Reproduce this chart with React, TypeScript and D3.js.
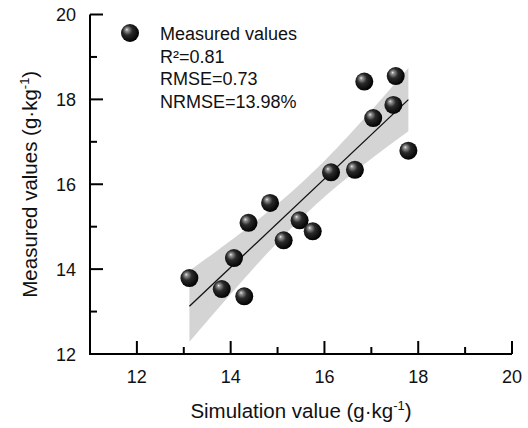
import { useEffect, useRef } from "react";
import * as d3 from "d3";

const simulated = [13.12, 13.81, 14.29, 14.07, 14.38, 14.84, 15.13, 15.47, 15.75, 16.14, 16.65, 16.85, 17.04, 17.52, 17.47, 17.79];
const measured = [13.79, 13.53, 13.36, 14.26, 15.09, 15.56, 14.68, 15.15, 14.89, 16.28, 16.34, 18.42, 17.56, 18.55, 17.87, 16.79];
const xTicks = [12, 14, 16, 18, 20];
const yTicks = [12, 14, 16, 18, 20];
const stats = ["R²=0.81", "RMSE=0.73", "NRMSE=13.98%"];

const FONT = "'Liberation Sans', Arial, sans-serif";

export default function App() {
  const ref = useRef<SVGSVGElement | null>(null);

  useEffect(() => {
    const width = 528,
      height = 428;
    const margin = { top: 14.5, right: 16, bottom: 74, left: 90 };
    const svg = d3.select(ref.current);
    svg.selectAll("*").remove();

    const x = d3.scaleLinear().domain([11, 20]).range([margin.left, width - margin.right]);
    const y = d3.scaleLinear().domain([12, 20]).range([height - margin.bottom, margin.top]);

    // sphere shading
    const grad = svg
      .append("defs")
      .append("radialGradient")
      .attr("id", "ball")
      .attr("cx", "0.42")
      .attr("cy", "0.42")
      .attr("r", "0.6")
      .attr("fx", "0.32")
      .attr("fy", "0.3");
    grad.append("stop").attr("offset", "0%").attr("stop-color", "#f2f2f2");
    grad.append("stop").attr("offset", "12%").attr("stop-color", "#9a9a9a");
    grad.append("stop").attr("offset", "45%").attr("stop-color", "#2a2a2a");
    grad.append("stop").attr("offset", "100%").attr("stop-color", "#000");

    // linear fit + 95% confidence band
    const pts = simulated.map((s, i) => ({ s, m: measured[i] }));
    const n = pts.length;
    const mx = d3.mean(simulated)!;
    const my = d3.mean(measured)!;
    const sxx = d3.sum(simulated, v => (v - mx) ** 2);
    const sxy = d3.sum(pts, p => (p.s - mx) * (p.m - my));
    const slope = sxy / sxx;
    const icpt = my - slope * mx;
    const se = Math.sqrt(d3.sum(pts, p => (p.m - (icpt + slope * p.s)) ** 2) / (n - 2));
    const tval = 2.145;
    const [x0, x1] = d3.extent(simulated) as [number, number];
    const grid = d3.range(0, 41).map(i => x0 + ((x1 - x0) * i) / 40);
    const band = grid.map(v => {
      const h = tval * se * Math.sqrt(1 / n + (v - mx) ** 2 / sxx);
      const f = icpt + slope * v;
      return { v, lo: f - h, hi: f + h };
    });

    svg
      .append("path")
      .datum(band)
      .attr("fill", "#d4d4d4")
      .attr(
        "d",
        d3
          .area<{ v: number; lo: number; hi: number }>()
          .x(d => x(d.v))
          .y0(d => y(d.lo))
          .y1(d => y(d.hi))
      );

    svg
      .append("line")
      .attr("x1", x(x0))
      .attr("x2", x(x1))
      .attr("y1", y(icpt + slope * x0))
      .attr("y2", y(icpt + slope * x1))
      .attr("stroke", "#111")
      .attr("stroke-width", 1.3);

    // axes
    const axisG = svg.append("g").attr("stroke", "#000").attr("stroke-width", 2);
    axisG
      .append("path")
      .attr("fill", "none")
      .attr("d", `M${x(11)},${y(20)}V${y(12)}H${x(20)}`);
    d3.range(11, 20.5, 1).forEach(v => {
      const major = v % 2 === 0;
      axisG
        .append("line")
        .attr("x1", x(v))
        .attr("x2", x(v))
        .attr("y1", y(12))
        .attr("y2", y(12) - (major ? 13 : 7));
    });
    d3.range(12, 20.5, 1).forEach(v => {
      const major = v % 2 === 0;
      axisG
        .append("line")
        .attr("y1", y(v))
        .attr("y2", y(v))
        .attr("x1", x(11))
        .attr("x2", x(11) + (major ? 13 : 7));
    });

    const txt = svg.append("g").attr("font-family", FONT).attr("fill", "#111");
    txt
      .selectAll("text.xt")
      .data(xTicks)
      .enter()
      .append("text")
      .attr("x", d => x(d))
      .attr("y", 383)
      .attr("text-anchor", "middle")
      .attr("font-size", 18)
      .text(d => d);
    txt
      .selectAll("text.yt")
      .data(yTicks)
      .enter()
      .append("text")
      .attr("x", 76)
      .attr("y", d => y(d) + 6.5)
      .attr("text-anchor", "end")
      .attr("font-size", 18)
      .text(d => d);

    const xt = txt
      .append("text")
      .attr("x", (x(11) + x(20)) / 2)
      .attr("y", 418)
      .attr("text-anchor", "middle")
      .attr("font-size", 20.5);
    xt.append("tspan").text("Simulation value (g·kg");
    xt.append("tspan").attr("font-size", 13).attr("dy", -8).text("-1");
    xt.append("tspan").attr("dy", 8).text(")");

    const yt = txt
      .append("text")
      .attr("transform", `translate(37,${(y(12) + y(20)) / 2}) rotate(-90)`)
      .attr("text-anchor", "middle")
      .attr("font-size", 20.5);
    yt.append("tspan").text("Measured values (g·kg");
    yt.append("tspan").attr("font-size", 13).attr("dy", -8).text("-1");
    yt.append("tspan").attr("dy", 8).text(")");

    // points
    svg
      .append("g")
      .selectAll("circle")
      .data(pts)
      .enter()
      .append("circle")
      .attr("cx", d => x(d.s))
      .attr("cy", d => y(d.m))
      .attr("r", 9)
      .attr("fill", "url(#ball)");

    // legend
    svg.append("circle").attr("cx", 130).attr("cy", 33).attr("r", 9).attr("fill", "url(#ball)");
    txt.append("text").attr("x", 160).attr("y", 39.5).attr("font-size", 18).text("Measured values");
    txt
      .selectAll("text.st")
      .data(stats)
      .enter()
      .append("text")
      .attr("x", 160)
      .attr("y", (_, i) => 62.5 + i * 22.7)
      .attr("font-size", 18)
      .text(d => d);
  }, []);

  return (
    <svg
      ref={ref}
      width={528}
      height={428}
      style={{ position: "absolute", left: 0, top: 0, background: "#fff" }}
    />
  );
}
